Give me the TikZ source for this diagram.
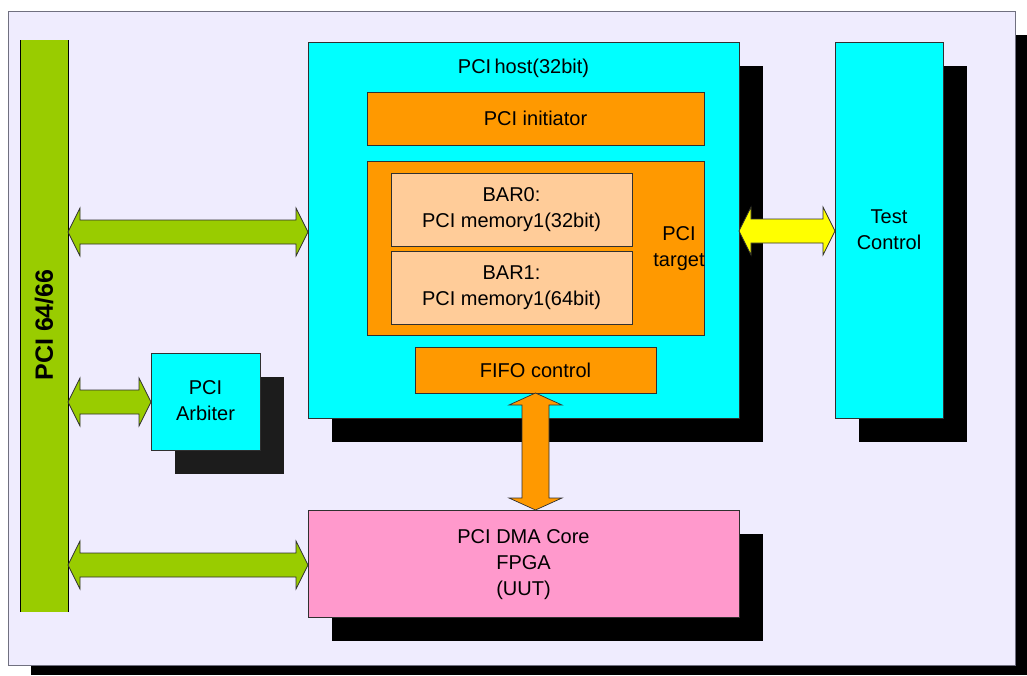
\documentclass[tikz,border=0pt]{standalone}
\usepackage{fontspec}
\setmainfont{Liberation Sans}
\usetikzlibrary{calc}
\definecolor{bgc}{HTML}{EFECFE}
\definecolor{framec}{HTML}{707080}
\definecolor{cyanc}{HTML}{00FFFF}
\definecolor{orangec}{HTML}{FF9900}
\definecolor{barc}{HTML}{FFCC99}
\definecolor{pinkc}{HTML}{FF99CC}
\definecolor{greenc}{HTML}{99CC00}
\definecolor{yellowc}{HTML}{FFFF00}
\definecolor{edgec}{HTML}{303030}
\newcommand\dblH[3]{\filldraw[#3] let \p1=(#1), \p2=(#2) in
  (\x1,\y1) -- (\x1+12pt,\y1+24pt) -- (\x1+12pt,\y1+12pt) -- (\x2-12pt,\y1+12pt)
  -- (\x2-12pt,\y1+24pt) -- (\x2,\y1) -- (\x2-12pt,\y1-24pt) -- (\x2-12pt,\y1-12pt)
  -- (\x1+12pt,\y1-12pt) -- (\x1+12pt,\y1-24pt) -- cycle;}
\newcommand\dblV[3]{\filldraw[#3] let \p1=(#1), \p2=(#2) in
  (\x1,\y1) -- (\x1+26.5pt,\y1-12pt) -- (\x1+13.5pt,\y1-12pt) -- (\x1+13.5pt,\y2+12pt)
  -- (\x1+26.5pt,\y2+12pt) -- (\x1,\y2) -- (\x1-26.5pt,\y2+12pt) -- (\x1-13.5pt,\y2+12pt)
  -- (\x1-13.5pt,\y1-12pt) -- (\x1-26.5pt,\y1-12pt) -- cycle;}
\begin{document}
\begin{tikzpicture}[x=1pt,y=-1pt,
  box/.style={draw=edgec,line width=0.8pt},
  shadowbox/.style={fill=black},
  txt/.style={font=\fontsize{20}{26}\selectfont,align=center,inner sep=0pt},
  arrowline/.style={draw=edgec,line width=0.7pt,line join=miter}]
\useasboundingbox (0,0) rectangle (1027,675);
% frame
\fill[black] (31,35) rectangle (1027,675);
\filldraw[fill=bgc,draw=framec,line width=1pt] (8,11) rectangle (1015,665);
% bus
\fill[greenc] (20,40) rectangle (68,612);
\draw[black,line width=0.8pt] (20,40) -- (20,612) (68,40) -- (68,612);
\node[inner sep=0pt] (bus) at (44,326) {};
\node[rotate=90,font=\fontsize{25}{30}\selectfont\bfseries,inner sep=0pt] (buslabel) at (44,325) {PCI 64/66};
\coordinate (busE1) at (68,232);
\coordinate (busE2) at (68,402);
\coordinate (busE3) at (68,565);
% shadows
\fill[black] (332,66) rectangle (763,442);
\fill[black] (859,66) rectangle (967,442);
\fill[black!89] (175,377) rectangle (284,474);
\fill[black] (332,534) rectangle (763,641);
% host
\filldraw[box,fill=cyanc] (308,42) rectangle (739,418);
\node[txt] (hostlabel) at (523.5,68) {PCI\,host(32bit)};
\filldraw[box,fill=orangec] (367,92) rectangle (704,145);
\node[txt] (init) at (535.5,118.5) {PCI initiator};
\filldraw[box,fill=orangec] (367,161) rectangle (704,335);
\node[txt] (target) at (679,249) {PCI\\target};
\filldraw[box,fill=barc] (391,173) rectangle (632,246);
\node[txt] (bar0) at (511.5,209.5) {BAR0:\\PCI memory1(32bit)};
\filldraw[box,fill=barc] (391,251) rectangle (632,324);
\node[txt] (bar1) at (511.5,287.5) {BAR1:\\PCI memory1(64bit)};
\filldraw[box,fill=orangec] (415,347) rectangle (656,393);
\node[txt] (fifo) at (535.5,370) {FIFO control};
\coordinate (fifoS) at (535.5,393);
\coordinate (hostW) at (308,232);
\coordinate (hostE) at (739,231);
% test control
\filldraw[box,fill=cyanc] (835,42) rectangle (943,418);
\node[txt] (test) at (889,230) {Test\\Control};
\coordinate (testW) at (835,231);
% arbiter
\filldraw[box,fill=cyanc] (151,353) rectangle (260,450);
\node[txt] (arb) at (205.5,401) {PCI\\Arbiter};
\coordinate (arbW) at (151,402);
% dma
\filldraw[box,fill=pinkc] (308,510) rectangle (739,617);
\node[txt] (dma) at (523.5,565) {PCI DMA Core\\FPGA\\(UUT)};
\coordinate (dmaN) at (535.5,510);
\coordinate (dmaW) at (308,565);
% arrows
\dblH{busE1}{hostW}{arrowline,fill=greenc}
\dblH{busE2}{arbW}{arrowline,fill=greenc}
\dblH{busE3}{dmaW}{arrowline,fill=greenc}
\dblH{hostE}{testW}{arrowline,fill=yellowc}
\dblV{fifoS}{dmaN}{arrowline,fill=orangec}
\end{tikzpicture}
\end{document}
